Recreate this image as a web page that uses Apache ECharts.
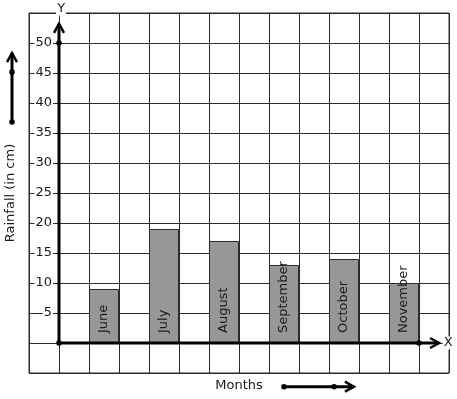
<!DOCTYPE html>
<html>
<head>
<meta charset="utf-8">
<script src="https://cdn.jsdelivr.net/npm/echarts@6/dist/echarts.min.js"></script>
<style>html,body{margin:0;padding:0;background:#fff}#c{width:457px;height:399px}</style>
</head>
<body>
<div id="c"></div>
<script>
var months = ['June', 'July', 'August', 'September', 'October', 'November'];
var rainfall = [9, 19, 17, 13, 14, 10];
var yTickLabels = [5, 10, 15, 20, 25, 30, 35, 40, 45, 50];
var yName = 'Rainfall (in cm)';
var xName = 'Months';

var FONT = 'DejaVu Sans';
var INK = '#1a1a1a';

// each month occupies one grid column, with an empty column between months
var barData = rainfall.map(function (v, i) { return [1.5 + 2 * i, v]; });

// decorative axis arrows (in data space)
var arrows = [
  { from: [0, 0], to: [12.67, 0], dots: [[0, 0], [12, 0]] },
  { from: [0, 0], to: [0, 53.2], dots: [[0, 50]] },
  { from: [-1.567, 36.83], to: [-1.567, 48.33], dots: [[-1.567, 36.83], [-1.567, 45.17]] },
  { from: [7.5, -7.28], to: [9.83, -7.28], dots: [[7.5, -7.28], [9.17, -7.28]] }
];
var letters = [
  { text: 'Y', at: [0.07, 55.67] },
  { text: 'X', at: [12.97, 0] }
];

function renderDecor(params, api) {
  var children = [];
  arrows.forEach(function (a) {
    var p0 = api.coord(a.from), p1 = api.coord(a.to);
    var dx = p1[0] - p0[0], dy = p1[1] - p0[1];
    var L = Math.sqrt(dx * dx + dy * dy);
    var ux = dx / L, uy = dy / L, nx = -uy, ny = ux;
    var bx = p1[0] - 9 * ux, by = p1[1] - 9 * uy;
    children.push({ type: 'line', shape: { x1: p0[0], y1: p0[1], x2: p1[0], y2: p1[1] },
      style: { stroke: '#000', lineWidth: 3 } });
    children.push({ type: 'polyline', shape: { points: [[bx + 5 * nx, by + 5 * ny], [p1[0], p1[1]], [bx - 5 * nx, by - 5 * ny]] },
      style: { stroke: '#000', lineWidth: 2.5, fill: null } });
    a.dots.forEach(function (d) {
      var p = api.coord(d);
      children.push({ type: 'circle', shape: { cx: p[0], cy: p[1], r: 2.8 }, style: { fill: '#000' } });
    });
  });
  letters.forEach(function (l) {
    var p = api.coord(l.at);
    children.push({ type: 'text', x: p[0], y: p[1],
      style: { text: l.text, fill: INK, font: '13px "' + FONT + '"', align: 'center', verticalAlign: 'middle',
        backgroundColor: '#fff', padding: [0, 1] } });
  });
  return { type: 'group', children: children };
}

var chart = echarts.init(document.getElementById('c'), null, { renderer: 'canvas' });
chart.setOption({
  animation: false,
  backgroundColor: '#fff',
  textStyle: { fontFamily: FONT },
  grid: { left: 29, right: 8, top: 13, bottom: 26, show: true, borderColor: '#2b2b2b', borderWidth: 1,
    containLabel: false, outerBoundsMode: 'none' },
  xAxis: {
    type: 'value', min: -1, max: 13, interval: 1,
    axisLine: { show: false, onZero: false },
    axisTick: { show: false },
    axisLabel: { show: false },
    splitLine: { show: true, lineStyle: { color: '#2b2b2b', width: 1 } },
    name: xName, nameLocation: 'middle', nameGap: 6,
    nameTextStyle: { fontFamily: FONT, fontSize: 13, color: INK }
  },
  yAxis: {
    type: 'value', min: -5, max: 55, interval: 5,
    axisLine: { show: false, onZero: false },
    axisTick: { show: false },
    axisLabel: {
      inside: true, margin: 24, align: 'right',
      fontFamily: FONT, fontSize: 13, color: INK,
      backgroundColor: '#fff', padding: [0, 1],
      formatter: function (v) { return yTickLabels.indexOf(v) >= 0 ? String(v) : ''; }
    },
    splitLine: { show: true, lineStyle: { color: '#2b2b2b', width: 1 } },
    name: yName, nameLocation: 'middle', nameGap: 12, nameRotate: 90,
    nameTextStyle: { fontFamily: FONT, fontSize: 13, color: INK }
  },
  series: [
    {
      type: 'bar', data: barData, barWidth: 30, z: 3,
      itemStyle: { color: '#979797', borderColor: '#2b2b2b', borderWidth: 1 },
      label: {
        show: true, position: 'insideBottom', rotate: 90, align: 'left', verticalAlign: 'middle',
        distance: 10, fontFamily: FONT, fontSize: 13, color: INK,
        formatter: function (p) { return months[p.dataIndex]; }
      }
    },
    {
      type: 'custom', data: [0], renderItem: renderDecor, z: 10, silent: true
    }
  ]
});
</script>
</body>
</html>
